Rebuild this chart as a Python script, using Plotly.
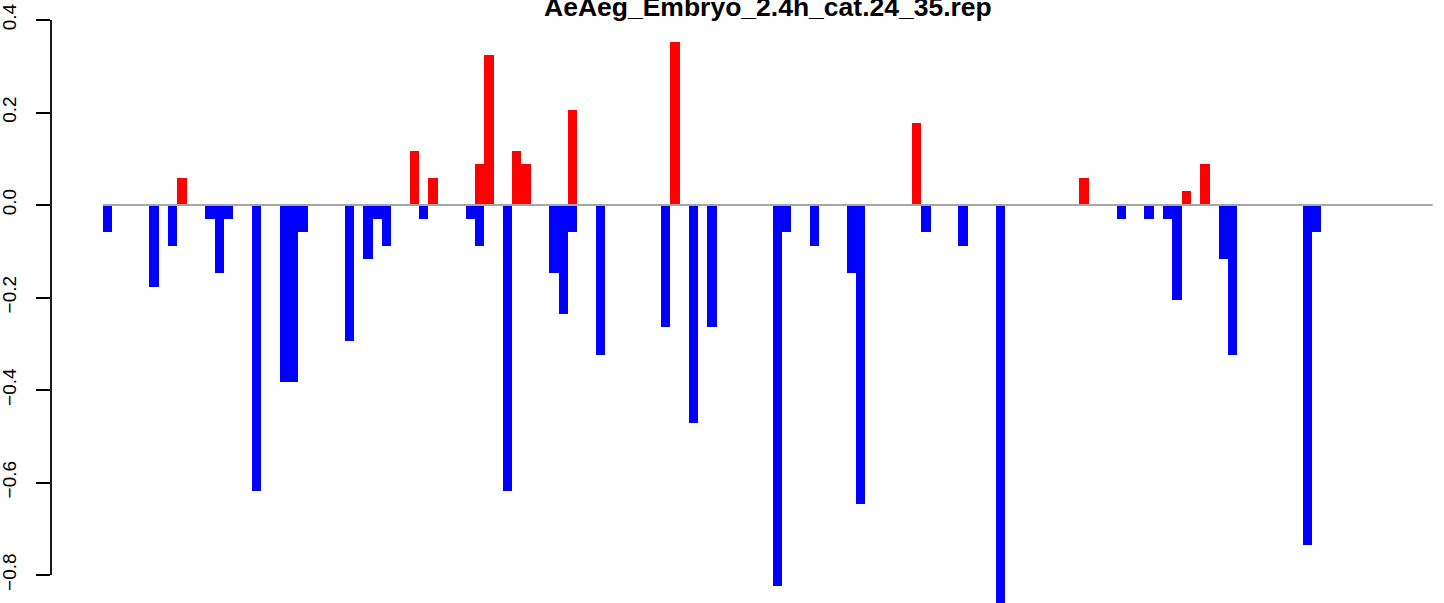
import plotly.graph_objects as go

# ---- data ----
n_bars = 143
up_index = [8, 33, 35, 40, 41, 44, 45, 50, 61, 87, 105, 116, 118]
up_values = [0.0588, 0.1176, 0.0588, 0.0882, 0.3235, 0.1176, 0.0882, 0.2059,
             0.3529, 0.1765, 0.0588, 0.0294, 0.0882]

down_index = [0, 5, 7, 11, 12, 13, 16, 19, 20, 21, 26, 28, 29, 30, 34, 39, 40,
              43, 48, 49, 50, 53, 60, 63, 65, 72, 73, 76, 80, 81, 88, 92, 96,
              109, 112, 114, 115, 120, 121, 129, 130]
down_values = [-0.0588, -0.1765, -0.0882, -0.0294, -0.1471, -0.0294, -0.6176,
               -0.3824, -0.3824, -0.0588, -0.2941, -0.1176, -0.0294, -0.0882,
               -0.0294, -0.0294, -0.0882, -0.6176, -0.1471, -0.2353, -0.0588,
               -0.3235, -0.2647, -0.4706, -0.2647, -0.8235, -0.0588, -0.0882,
               -0.1471, -0.6471, -0.0588, -0.0882, -0.8824, -0.0294, -0.0294,
               -0.0294, -0.2059, -0.1176, -0.3235, -0.7353, -0.0588]

tick_vals = [-0.8, -0.6, -0.4, -0.2, 0.0, 0.2, 0.4]
tick_text = ["\u22120.8", "\u22120.6", "\u22120.4", "\u22120.2", "0.0", "0.2", "0.4"]
title_text = "AeAeg_Embryo_2.4h_cat.24_35.rep"

# ---- geometry ----
W, H = 1444, 603
left = 51
px_per_bar = 1329.7 / n_bars
x0 = -(103 - left) / px_per_bar
x1 = x0 + (W - left) / px_per_bar
px_per_unit = 462.5
y_top = 205 / px_per_unit
y_bot = y_top - H / px_per_unit

fig = go.Figure()
fig.add_trace(go.Bar(x=[i + 0.5 for i in up_index], y=up_values, width=1,
                     marker=dict(color="#FF0000", line=dict(width=0)),
                     showlegend=False))
fig.add_trace(go.Bar(x=[i + 0.5 for i in down_index], y=down_values, width=1,
                     marker=dict(color="#0000FF", line=dict(width=0)),
                     showlegend=False))

# zero line across the bars
fig.add_shape(type="line", xref="x", yref="y", x0=0, x1=n_bars, y0=0, y1=0,
              line=dict(color="#A6A6A6", width=2), layer="above")
# y axis line from -0.8 to 0.4
fig.add_shape(type="line", xref="paper", yref="y", x0=0, x1=0,
              y0=tick_vals[0], y1=tick_vals[-1],
              line=dict(color="black", width=1.8), layer="above")

fig.add_annotation(text="<b>" + title_text + "</b>", xref="paper", yref="paper",
                   x=(767.9 - left) / (W - left), y=1 - 24 / H,
                   xanchor="center", yanchor="bottom", showarrow=False,
                   font=dict(family="Liberation Sans, Arial, sans-serif",
                             size=26.5, color="black"))

fig.update_layout(
    width=W, height=H,
    margin=dict(l=left, r=0, t=0, b=0, autoexpand=False),
    paper_bgcolor="white", plot_bgcolor="white",
    barmode="overlay", bargap=0,
    hovermode=False,
    font=dict(family="Liberation Sans, Arial, sans-serif", color="black"),
    xaxis=dict(range=[x0, x1], visible=False, showgrid=False, zeroline=False),
    yaxis=dict(range=[y_bot, y_top], showgrid=False, zeroline=False,
               showline=False, tickmode="array", tickvals=tick_vals,
               ticktext=tick_text, ticks="outside", ticklen=14,
               tickwidth=1.8, tickcolor="black", tickangle=-90,
               tickfont=dict(size=19, color="black"),
               ticklabelstandoff=12),
)

fig.write_html("out.html", config={"displayModeBar": False},
               post_script="document.body.style.margin='0';"
                           "document.body.style.overflow='hidden';")
